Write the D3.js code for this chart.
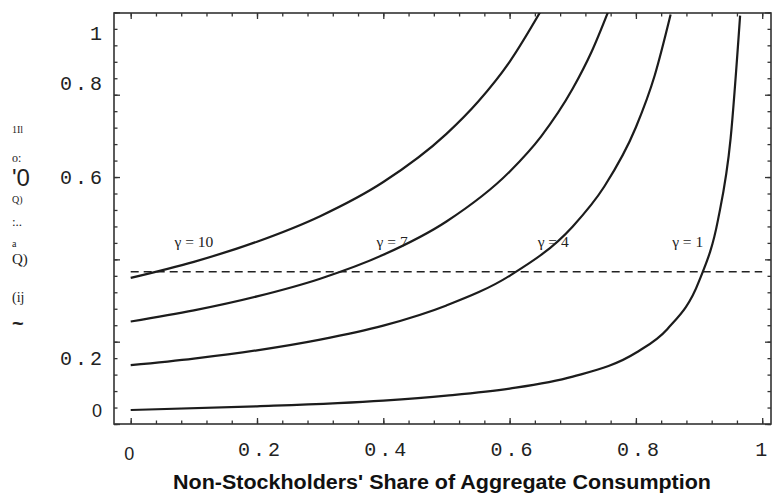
<!DOCTYPE html>
<html>
<head>
<meta charset="utf-8">
<script src="https://cdn.jsdelivr.net/npm/d3@7"></script>
<style>
    body { margin: 0; background: #ffffff; }
    .tick--mono { font-family: "Liberation Mono", monospace; font-size: 20px; letter-spacing: 3px; fill: #222; }
    .tick--sans { font-family: "Liberation Sans", sans-serif; font-size: 18px; letter-spacing: 0; fill: #222; }
    .gamma--label { font-family: "Liberation Serif", serif; font-size: 15.5px; fill: #222; }
    .axis--title { font-family: "Liberation Sans", sans-serif; font-weight: bold; font-size: 20px; fill: #111; }
</style>
</head>
<body>
<svg id="chart"></svg>
<script>
// curve values, x = non-stockholders' share
const gammaLabels = ["γ = 10", "γ = 7", "γ = 4", "γ = 1"];

const share10 = [0, 0.1, 0.2, 0.3, 0.4, 0.5, 0.55, 0.6, 0.65];
const level10 = [0.355, 0.394, 0.443, 0.505, 0.588, 0.705, 0.783, 0.880, 1.005];

const share7 = [0, 0.1, 0.2, 0.3, 0.4, 0.5, 0.6, 0.65, 0.7, 0.73, 0.76];
const level7 = [0.249, 0.276, 0.310, 0.353, 0.411, 0.492, 0.613, 0.699, 0.815, 0.905, 1.017];

const share4 = [0, 0.1, 0.2, 0.3, 0.4, 0.5, 0.6, 0.7, 0.75, 0.8, 0.83, 0.855];
const level4 = [0.143, 0.159, 0.179, 0.205, 0.239, 0.288, 0.360, 0.480, 0.577, 0.721, 0.848, 0.995];

const share1 = [0, 0.2, 0.4, 0.5, 0.6, 0.7, 0.8, 0.85, 0.9, 0.93, 0.95, 0.965];
const level1 = [0.034, 0.043, 0.057, 0.069, 0.086, 0.115, 0.173, 0.231, 0.347, 0.496, 0.694, 0.992];

const dashedLevel = 0.37;

const xTickValues = [0, 0.2, 0.4, 0.6, 0.8, 1];
const xTickLabels = ["0", "0.2", "0.4", "0.6", "0.8", "1"];

// the printed y labels do not sit on the ticks, these are where they appear
const yTickSpots = [0.949, 0.828, 0.6, 0.16, 0.032];
const yTickLabels = ["1", "0.8", "0.6", "0.2", "0"];

// scanned y title, as the text layer has it
const yTitleBits = ["1Il", "o:", "'0", "Q)", ":..", "a", "Q)", "(ij", "~"];

const width = 772;
const height = 496;
const plot = { left: 114, right: 771, top: 13, bottom: 424 };

const svg = d3.select("#chart")
    .attr("width", width)
    .attr("height", height);

svg.append("rect")
    .attr("width", width)
    .attr("height", height)
    .attr("fill", "#ffffff");

const x = d3.scaleLinear().domain([0, 1]).range([130.7, 762.2]);
const y = d3.scaleLinear().domain([0, 1]).range([424, 12.4]);

// Title frame and inward ticks
function drawFrame() {
    const minor = d3.range(26).map(i => i * 0.04);
    const major = d3.range(6).map(i => i * 0.2);

    const axes = [
        [d3.axisBottom(x), `translate(0,${plot.bottom})`],
        [d3.axisTop(x), `translate(0,${plot.top})`],
        [d3.axisLeft(y), `translate(${plot.left},0)`],
        [d3.axisRight(y), `translate(${plot.right},0)`]
    ];

    axes.forEach(function(a) {
        [[minor, 3.5], [major, 6]].forEach(function(t) {
            const g = svg.append("g")
                .attr("transform", a[1])
                .call(a[0].tickValues(t[0]).tickSize(-t[1]).tickFormat(""));
            g.select(".domain").remove();
            g.selectAll("line").attr("stroke", "#333").attr("stroke-width", 1.3);
        });
    });

    svg.append("rect")
        .attr("x", plot.left)
        .attr("y", plot.top)
        .attr("width", plot.right - plot.left)
        .attr("height", plot.bottom - plot.top)
        .attr("fill", "none")
        .attr("stroke", "#333")
        .attr("stroke-width", 1.6);
}

// Title tick labels and axis titles
function drawLabels() {
    const gy = svg.append("g")
        .attr("transform", "translate(102,0)")
        .call(d3.axisLeft(y).tickValues(yTickSpots).tickSize(0).tickPadding(0)
            .tickFormat((d, i) => yTickLabels[i]));
    gy.select(".domain").remove();
    gy.selectAll("text")
        .attr("font-family", null)
        .attr("font-size", null)
        .attr("class", (d, i) => yTickLabels[i] === "0" ? "tick--sans" : "tick--mono")
        .attr("dx", (d, i) => yTickLabels[i] === "0" ? 0 : 3);

    const gx = svg.append("g")
        .attr("transform", `translate(0,${plot.bottom})`)
        .call(d3.axisBottom(x).tickValues(xTickValues).tickSize(0).tickPadding(0)
            .tickFormat((d, i) => xTickLabels[i]));
    gx.select(".domain").remove();
    gx.selectAll("text")
        .attr("font-family", null)
        .attr("font-size", null)
        .attr("dy", 0)
        .attr("y", (d, i) => i === 0 ? 36 : 32)
        .attr("x", (d, i) => i === 0 ? -2 : (i === 5 ? 0 : 3))
        .attr("class", (d, i) => i === 0 ? "tick--sans" : "tick--mono");

    svg.append("text")
        .attr("class", "axis--title")
        .attr("x", 442)
        .attr("y", 489)
        .attr("text-anchor", "middle")
        .attr("textLength", 538)
        .attr("lengthAdjust", "spacingAndGlyphs")
        .text("Non-Stockholders' Share of Aggregate Consumption");

    const bitStyle = [
        [133, 10, "Liberation Serif"],
        [162, 12, "Liberation Serif"],
        [186, 24, "Liberation Sans"],
        [203, 10, "Liberation Serif"],
        [226, 13, "Liberation Serif"],
        [247, 10, "Liberation Serif"],
        [264, 15, "Liberation Serif"],
        [302, 14, "Liberation Serif"],
        [330, 20, "Liberation Sans"]
    ];

    svg.append("g")
        .selectAll("text")
        .data(yTitleBits)
        .join("text")
        .attr("x", 12)
        .attr("y", (d, i) => bitStyle[i][0])
        .attr("font-size", (d, i) => bitStyle[i][1])
        .attr("font-family", (d, i) => bitStyle[i][2])
        .attr("font-weight", (d, i) => i === 8 ? "bold" : null)
        .attr("fill", "#222")
        .text(d => d);
}

// Title curves for each gamma and the dashed level
function drawCurves() {
    svg.append("clipPath")
        .attr("id", "plot-clip")
        .append("rect")
        .attr("x", plot.left)
        .attr("y", plot.top)
        .attr("width", plot.right - plot.left)
        .attr("height", plot.bottom - plot.top);

    const line = d3.line()
        .x(d => x(d[0]))
        .y(d => y(d[1]))
        .curve(d3.curveMonotoneX);

    const series = [
        d3.zip(share10, level10),
        d3.zip(share7, level7),
        d3.zip(share4, level4),
        d3.zip(share1, level1)
    ];

    const g = svg.append("g").attr("clip-path", "url(#plot-clip)");

    g.append("path")
        .attr("d", line([[0, dashedLevel], [1, dashedLevel]]))
        .attr("fill", "none")
        .attr("stroke", "#222")
        .attr("stroke-width", 1.5)
        .attr("stroke-dasharray", "8,5");

    series.forEach(function(s) {
        g.append("path")
            .attr("d", line(s))
            .attr("fill", "none")
            .attr("stroke", "#1c1c1c")
            .attr("stroke-width", 2.2);
    });

    const labelShare = [0.1, 0.414, 0.669, 0.882];

    svg.append("g")
        .selectAll("text")
        .data(gammaLabels)
        .join("text")
        .attr("class", "gamma--label")
        .attr("x", (d, i) => x(labelShare[i]))
        .attr("y", y(0.43))
        .attr("text-anchor", "middle")
        .text(d => d);
}

drawFrame();
drawCurves();
drawLabels();
</script>
</body>
</html>
